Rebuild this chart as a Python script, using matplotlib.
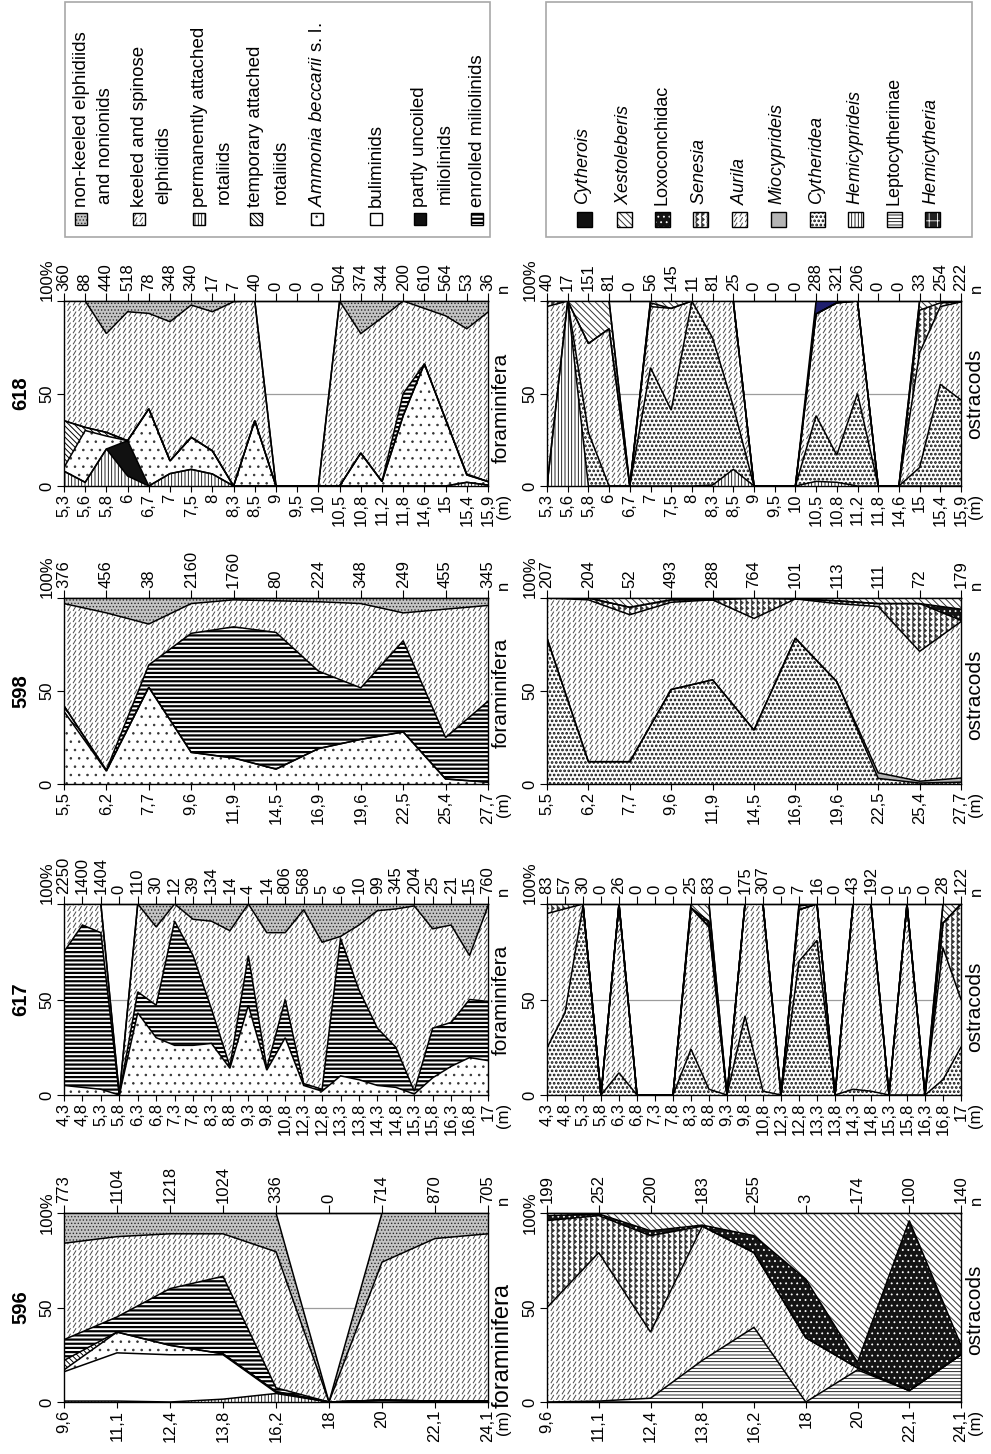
import numpy as np
import matplotlib
matplotlib.use("Agg")
import matplotlib.pyplot as plt
import matplotlib.hatch as mhatch
from matplotlib.path import Path
from matplotlib.patches import Rectangle

plt.rcParams['font.family'] = ['Liberation Sans', 'DejaVu Sans']
plt.rcParams['mathtext.fontset'] = 'custom'
plt.rcParams['mathtext.rm'] = 'Liberation Sans'
plt.rcParams['mathtext.it'] = 'Liberation Sans:italic'

W, H = 991, 1454


# ---------------------------------------------------------------- extra fill patterns
class DashedDiagonalHatch(mhatch.HatchPatternBase):
    """Short '/' dashes on a regular grid (selected with 'O')."""

    def __init__(self, hatch, density):
        self.num_rows = int(hatch.count('O') * density)
        self.num_vertices = 2 * self.num_rows * self.num_rows

    def set_vertices_and_codes(self, vertices, codes):
        n = self.num_rows
        step = 1.0 / n
        k = 0
        for i in range(n):
            for j in range(n):
                x0 = i * step + 0.2 * step
                y0 = j * step + 0.1 * step
                vertices[k] = (x0, y0)
                vertices[k + 1] = (x0 + 0.45 * step, y0 + 0.75 * step)
                codes[k] = Path.MOVETO
                codes[k + 1] = Path.LINETO
                k += 2


class ZigZagHatch(mhatch.HatchPatternBase):
    """Vertical zig-zag lines (selected with '*')."""

    def __init__(self, hatch, density):
        self.num_lines = int(hatch.count('*') * density)
        self.num_vertices = self.num_lines * (2 * self.num_lines + 1)

    def set_vertices_and_codes(self, vertices, codes):
        n = self.num_lines
        m = 2 * n + 1
        ys = np.linspace(0, 1, m)
        amp = 0.28 / n
        sign = np.where(np.arange(m) % 2 == 0, -1.0, 1.0)
        k = 0
        for i in range(n):
            xc = (i + 0.5) / n
            vertices[k:k + m, 0] = xc + amp * sign
            vertices[k:k + m, 1] = ys
            codes[k] = Path.MOVETO
            codes[k + 1:k + m] = Path.LINETO
            k += m


mhatch._hatch_types[:] = [t for t in mhatch._hatch_types
                          if t not in (mhatch.Stars, mhatch.LargeCircles)]
mhatch._hatch_types += [DashedDiagonalHatch, ZigZagHatch]

# ---------------------------------------------------------------- data
# depth labels (m) and sample counts per site
depth_596 = ['9,6', '11,1', '12,4', '13,8', '16,2', '18', '20', '22,1', '24,1']
depth_617 = ['4,3', '4,8', '5,3', '5,8', '6,3', '6,8', '7,3', '7,8', '8,3', '8,8', '9,3', '9,8',
             '10,8', '12,3', '12,8', '13,3', '13,8', '14,3', '14,8', '15,3', '15,8', '16,3', '16,8', '17']
depth_598 = ['5,5', '6,2', '7,7', '9,6', '11,9', '14,5', '16,9', '19,6', '22,5', '25,4', '27,7']
depth_618 = ['5,3', '5,6', '5,8', '6', '6,7', '7', '7,5', '8', '8,3', '8,5', '9', '9,5', '10',
             '10,5', '10,8', '11,2', '11,8', '14,6', '15', '15,4', '15,9']

n_foram_596 = [773, 1104, 1218, 1024, 336, 0, 714, 870, 705]
n_foram_617 = [2250, 1400, 1404, 0, 110, 30, 12, 39, 134, 14, 4, 14, 806, 568, 5, 6, 10, 99,
               345, 204, 25, 21, 15, 760]
n_foram_598 = [376, 456, 38, 2160, 1760, 80, 224, 348, 249, 455, 345]
n_foram_618 = [360, 88, 440, 518, 78, 348, 340, 17, 7, 40, 0, 0, 0, 504, 374, 344, 200, 610,
               564, 53, 36]

n_ostr_596 = [199, 252, 200, 183, 255, 3, 174, 100, 140]
n_ostr_617 = [83, 57, 30, 0, 26, 0, 0, 0, 25, 83, 0, 175, 307, 0, 7, 16, 0, 43, 192, 0, 5, 0, 28, 122]
n_ostr_598 = [207, 204, 52, 493, 288, 764, 101, 113, 111, 72, 179]
n_ostr_618 = [40, 17, 151, 81, 0, 56, 145, 11, 81, 25, 0, 0, 0, 288, 321, 206, 0, 0, 33, 254, 222]

# foraminifera groups, percent of sample
perm_596 = [0.5, 0.5, 0, 1.5, 4.5, 0, 0, 0, 0]
bulim_596 = [15.5, 25.5, 25, 23.5, 0.5, 0, 1, 0.5, 0.5]
ammonia_596 = [1, 11, 5, 0.5, 0.5, 0, 0, 0, 0]
temp_596 = [5, 0, 0, 0, 0, 0, 0, 0, 0]
enrolled_596 = [11, 8, 30, 41, 2, 0, 0, 0, 0]
keeled_596 = [51, 42.5, 29, 22.5, 72, 0, 73, 86, 88.5]
nonkeeled_596 = [16, 12.5, 11, 11, 20.5, 0, 26, 13.5, 11]

ammonia_617 = [5, 4, 3, 0, 43, 30, 26, 26, 27, 14, 47, 13, 30, 5, 2, 10, 8, 5, 4, 0.5, 9, 15, 19.6, 18]
enrolled_617 = [70, 85, 82, 0, 11, 17, 65, 47, 18, 1, 26, 1, 20, 1, 1, 72, 47, 30, 21, 1.5, 26, 23, 30.4, 31]
keeled_617 = [25, 11, 15, 0, 46, 41, 9, 19, 46, 71, 27, 71, 35, 91, 77, 1, 34, 61.5, 72.4, 97, 52, 51, 23, 50]
nonkeeled_617 = [0, 0, 0, 0, 0, 12, 0, 8, 9, 14, 0, 15, 15, 3, 20, 17, 11, 3.5, 2.6, 1, 13, 11, 27, 1]

ammonia_598 = [39, 7, 52, 17, 14, 8, 19, 24, 28, 2.7, 1]
temp_598 = [3, 0, 0, 0, 0, 0, 0, 0, 0, 0, 0]
enrolled_598 = [0, 0.5, 12, 64, 70.5, 73.5, 41.7, 27.7, 49, 22.3, 43.5]
keeled_598 = [55, 84.5, 22, 16, 14.5, 17, 37.3, 45.3, 15, 69, 51.5]
nonkeeled_598 = [3, 8, 14, 3, 1, 1.5, 2, 3, 8, 6, 4]

perm_618 = [8, 2, 20, 5.4, 0, 6.7, 9, 6.5, 0, 0, 0, 0, 0, 0, 0, 0, 0, 0, 0, 2, 0.5]
partly_618 = [0, 0, 0, 19.1, 0, 0, 0, 0, 0, 0, 0, 0, 0, 0, 0, 0, 0, 0, 0, 0, 0]
ammonia_618 = [2, 28, 7, 0, 41.7, 6.9, 17.3, 12.5, 0, 35.3, 0, 0, 0, 0, 17.8, 2.4, 38, 66, 36, 4, 1.9]
temp_618 = [25.3, 1.7, 2, 0, 0, 0, 0, 0, 0, 0, 0, 0, 0, 0, 0, 0, 0, 0, 0, 0, 0]
enrolled_618 = [0, 0, 0, 0, 0, 0, 0, 0, 0, 0, 0, 0, 0, 0, 0, 0, 12, 0, 0, 0.5, 0]
keeled_618 = [64.7, 68.3, 53.4, 69.7, 51.6, 75.2, 71.5, 75.2, 99.6, 64.7, 0, 0, 0, 100, 64.6, 88.6,
              50, 30, 56, 78.5, 91.6]
nonkeeled_618 = [0, 0, 17.6, 5.8, 6.7, 11.2, 2.2, 5.8, 0.4, 0, 0, 0, 0, 0, 17.6, 9, 0, 4, 8, 15, 6]

# ostracod taxa, percent of sample
lepto_596 = [0, 0.5, 2, 22, 39.5, 0, 17, 6, 25]
aurila_596 = [50, 78.5, 35, 71, 39.5, 34, 1, 0, 0]
senesia_596 = [46, 19.6, 51, 0, 0, 0, 0, 0, 0]
loxo_596 = [2.6, 0.9, 2.6, 0.6, 9, 31, 3, 90, 5]
xesto_596 = [1.4, 0.5, 9.4, 6.4, 12, 35, 79, 4, 70]

cytheridea_617 = [24.7, 43, 99, 0, 11.6, 0, 0, 0, 24, 3, 0, 41.4, 2, 0, 70, 81, 0, 3, 2, 0, 0, 0, 8, 25]
aurila_617 = [70.3, 54.5, 1, 0, 88.4, 0, 0, 0, 74, 85, 0, 58.6, 98, 0, 27, 19, 0, 97, 98, 0, 100, 0, 69, 25]
senesia_617 = [5, 2.5, 0, 0, 0, 0, 0, 0, 0, 0, 0, 0, 0, 0, 0, 0, 0, 0, 0, 0, 0, 0, 13, 50]
loxo_617 = [0, 0, 0, 0, 0, 0, 0, 0, 0, 3, 0, 0, 0, 0, 0, 0, 0, 0, 0, 0, 0, 0, 0, 0]
xesto_617 = [0, 0, 0, 0, 0, 0, 0, 0, 2, 9, 0, 0, 0, 0, 2, 0, 0, 0, 0, 0, 0, 0, 10, 0]
cytherois_617 = [0, 0, 0, 0, 0, 0, 0, 0, 0, 0, 0, 0, 0, 0, 1, 0, 0, 0, 0, 0, 0, 0, 0, 0]

cytheridea_598 = [78.4, 12, 12, 50.8, 56, 29, 78.4, 55, 3, 0.5, 1]
miocyp_598 = [0, 0, 0, 0, 0, 0, 0, 0, 3, 1, 2.2]
aurila_598 = [21.6, 87, 79, 46.9, 43, 60, 21.1, 42, 89.4, 69.8, 84.1]
senesia_598 = [0, 1, 4, 1.3, 0, 11, 0, 1.5, 1.6, 25.7, 0.7]
loxo_598 = [0, 0, 0, 0, 0, 0, 0, 0, 0, 0, 6]
xesto_598 = [0, 0, 5, 1, 1, 0, 0.5, 1.5, 3, 3, 6]

hemicyp_618 = [0, 100, 0, 0, 0, 0, 0, 0, 0.5, 9, 0, 0, 0, 2.5, 2, 0, 0, 0, 0, 0, 0]
cytheridea_618 = [0, 0, 29, 0, 0, 64, 41, 100, 79.5, 34, 0, 0, 0, 35.5, 14.7, 50, 0, 0, 10, 55, 46.5]
aurila_618 = [97, 0, 48, 85, 0, 33, 55, 0, 20, 57, 0, 0, 0, 55, 82.3, 50, 0, 0, 62, 42, 53]
senesia_618 = [3, 0, 0, 0, 0, 2, 0, 0, 0, 0, 0, 0, 0, 0, 0, 0, 0, 0, 23, 2, 0]
xesto_618 = [0, 0, 23, 15, 0, 1, 4, 0, 0, 0, 0, 0, 0, 0, 0, 0, 0, 0, 5, 1, 0.5]
cytherois_618 = [0, 0, 0, 0, 0, 0, 0, 0, 0, 0, 0, 0, 0, 7, 1, 0, 0, 0, 0, 0, 0]

# ---------------------------------------------------------------- styles
FORAM_STYLE = {
    'nonkeeled': dict(face='#c4c4c4', hatch='.....', hc='#2a2a2a', hlw=0.6),
    'keeled': dict(face='white', hatch='OOO', hc='#4a4a4a', hlw=0.7),
    'perm': dict(face='white', hatch='|||||', hc='black', hlw=0.6),
    'temp': dict(face='white', hatch='\\\\\\\\\\\\', hc='black', hlw=0.7),
    'ammonia': dict(face='white', hatch='..', hc='#333333', hlw=0.6),
    'bulim': dict(face='white', hatch=None, hc='none', hlw=0.5),
    'partly': dict(face='#111111', hatch=None, hc='none', hlw=0.5),
    'enrolled': dict(face='white', hatch='----', hc='black', hlw=1.6),
}
FORAM_ORDER = ['perm', 'partly', 'bulim', 'ammonia', 'temp', 'enrolled', 'keeled', 'nonkeeled']

OSTR_STYLE = {
    'hemicytheria': dict(face='#222222', hatch='++', hc='white', hlw=0.6),
    'lepto': dict(face='white', hatch='-----', hc='black', hlw=0.6),
    'hemicyp': dict(face='white', hatch='|||||', hc='black', hlw=0.6),
    'cytheridea': dict(face='white', hatch='....', hc='#111111', hlw=1.3),
    'miocyp': dict(face='#b5b5b5', hatch=None, hc='none', hlw=0.5),
    'aurila': dict(face='white', hatch='OOO', hc='#4a4a4a', hlw=0.7),
    'senesia': dict(face='white', hatch='***', hc='#333333', hlw=0.6),
    'loxo': dict(face='#141414', hatch='...', hc='white', hlw=0.6),
    'xesto': dict(face='white', hatch='\\\\\\\\\\', hc='#333333', hlw=0.7),
    'cytherois': dict(face='#111111', hatch=None, hc='none', hlw=0.5),
}
OSTR_ORDER = ['hemicytheria', 'lepto', 'hemicyp', 'cytheridea', 'miocyp', 'aurila', 'senesia',
              'loxo', 'xesto', 'cytherois']

fig = plt.figure(figsize=(W / 100, H / 100), dpi=100)

# pixel-space overlay for legends and site numbers
lay = fig.add_axes([0, 0, 1, 1])
lay.set_xlim(0, W)
lay.set_ylim(H, 0)
lay.axis('off')
lay.set_zorder(0)


def axes_px(x0, y0, x1, y1):
    ax = fig.add_axes([x0 / W, 1 - y1 / H, (x1 - x0) / W, (y1 - y0) / H])
    ax.set_zorder(2)
    return ax


def make_fill(ax, x, lo, hi, st, z=1):
    with plt.rc_context({'hatch.linewidth': st['hlw']}):
        coll = ax.fill_between(x, lo, hi, facecolor=st['face'], edgecolor=st['hc'],
                               hatch=st['hatch'], linewidth=0, zorder=z)
    if hasattr(coll, 'set_hatch_linewidth'):
        coll.set_hatch_linewidth(st['hlw'])
    return coll


def draw_panel(ax, depths, counts, layers, order, styles, group, label_pos,
               label_size, top_va='bottom'):
    n = len(depths)
    x = np.arange(n)
    ax.axhline(50, color='#9c9c9c', lw=0.9, zorder=0.5)
    base = np.zeros(n)
    for key in order:
        if key not in layers:
            continue
        vals = np.asarray(layers[key], float)
        top = base + vals
        if np.any(vals > 0):
            make_fill(ax, x, base, top, styles[key])
            ax.plot(x, top, color='black', lw=1.1, zorder=3, solid_joinstyle='miter')
        base = top
    ax.set_xlim(0, n - 1)
    ax.set_ylim(0, 100)
    ax.set_facecolor('none')
    for sp in ax.spines.values():
        sp.set_linewidth(1.0)
        sp.set_zorder(4)
    ax.set_xticks(x, labels=depths)
    ax.set_yticks([0, 50, 100], labels=['0', '50', '100%'])
    ax.tick_params(axis='x', direction='out', length=4, width=0.8, pad=1.5,
                   labelsize=12, labelrotation=90)
    ax.tick_params(axis='y', direction='out', length=5, width=0.8, pad=2,
                   labelsize=12, labelrotation=90)
    ylabels = ax.get_yticklabels()
    for lbl in ylabels:
        lbl.set_va('center')
    ylabels[-1].set_va(top_va)
    sec = ax.secondary_xaxis('top')
    sec.set_xticks(x, labels=[str(c) for c in counts])
    sec.tick_params(direction='out', length=6, width=0.8, pad=1.5, labelsize=12,
                    labelrotation=90)
    sec.spines['top'].set_linewidth(1.0)
    ax.annotate('n', xy=(1, 1), xycoords='axes fraction', xytext=(15, 8),
                textcoords='offset pixels', rotation=90, ha='center', va='bottom',
                fontsize=12)
    ax.annotate('(m)', xy=(1, 0), xycoords='axes fraction', xytext=(15, -8),
                textcoords='offset pixels', rotation=90, ha='center', va='top',
                fontsize=12)
    ax.annotate(group, xy=(1, label_pos), xycoords='axes fraction', xytext=(4, 0),
                textcoords='offset pixels', rotation=90, ha='left', va='center',
                fontsize=label_size)


ROWS = [(301, 486), (598, 784), (904, 1095), (1213, 1402)]
FX = (64, 488)
OX = (547, 961)

sites = ['618', '598', '617', '596']
foram_data = {
    '618': (depth_618, n_foram_618, dict(perm=perm_618, partly=partly_618, ammonia=ammonia_618,
                                         temp=temp_618, enrolled=enrolled_618, keeled=keeled_618,
                                         nonkeeled=nonkeeled_618)),
    '598': (depth_598, n_foram_598, dict(ammonia=ammonia_598, temp=temp_598, enrolled=enrolled_598,
                                         keeled=keeled_598, nonkeeled=nonkeeled_598)),
    '617': (depth_617, n_foram_617, dict(ammonia=ammonia_617, enrolled=enrolled_617,
                                         keeled=keeled_617, nonkeeled=nonkeeled_617)),
    '596': (depth_596, n_foram_596, dict(perm=perm_596, bulim=bulim_596, ammonia=ammonia_596,
                                         temp=temp_596, enrolled=enrolled_596, keeled=keeled_596,
                                         nonkeeled=nonkeeled_596)),
}
ostr_data = {
    '618': (depth_618, n_ostr_618, dict(hemicyp=hemicyp_618, cytheridea=cytheridea_618,
                                        aurila=aurila_618, senesia=senesia_618, xesto=xesto_618,
                                        cytherois=cytherois_618)),
    '598': (depth_598, n_ostr_598, dict(cytheridea=cytheridea_598, miocyp=miocyp_598,
                                        aurila=aurila_598, senesia=senesia_598, loxo=loxo_598,
                                        xesto=xesto_598)),
    '617': (depth_617, n_ostr_617, dict(cytheridea=cytheridea_617, aurila=aurila_617,
                                        senesia=senesia_617, loxo=loxo_617, xesto=xesto_617,
                                        cytherois=cytherois_617)),
    '596': (depth_596, n_ostr_596, dict(lepto=lepto_596, aurila=aurila_596, senesia=senesia_596,
                                        loxo=loxo_596, xesto=xesto_596)),
}
foram_label = {'618': (0.42, 15), '598': (0.49, 15), '617': (0.5, 15), '596': (0.3, 17)}
ostr_label = {'618': (0.5, 15), '598': (0.48, 15), '617': (0.46, 15), '596': (0.49, 15)}

for site, (y0, y1) in zip(sites, ROWS):
    top_va = 'center' if site == '596' else 'bottom'
    d, c, layers = foram_data[site]
    axf = axes_px(FX[0], y0, FX[1], y1)
    draw_panel(axf, d, c, layers, FORAM_ORDER, FORAM_STYLE, 'foraminifera',
               foram_label[site][0], foram_label[site][1], top_va)
    d, c, layers = ostr_data[site]
    styles = dict(OSTR_STYLE)
    if site == '618':
        styles['cytherois'] = dict(OSTR_STYLE['cytherois'], face='#1f1f6e')
    axo = axes_px(OX[0], y0, OX[1], y1)
    draw_panel(axo, d, c, layers, OSTR_ORDER, styles, 'ostracods',
               ostr_label[site][0], ostr_label[site][1], top_va)
    lay.text(21, (y0 + y1) / 2, site, rotation=90, ha='center', va='center',
             fontsize=14.5, fontweight='bold')


# ---------------------------------------------------------------- legends
def legend_patch(cx, cy, size, st):
    with plt.rc_context({'hatch.linewidth': st['hlw']}):
        p = Rectangle((cx - size / 2, cy - size / 2), size, size, facecolor=st['face'],
                      edgecolor=st['hc'], hatch=st['hatch'], linewidth=0, zorder=2)
    if hasattr(p, 'set_hatch_linewidth'):
        p.set_hatch_linewidth(st['hlw'])
    lay.add_patch(p)
    lay.add_patch(Rectangle((cx - size / 2, cy - size / 2), size, size, fill=False,
                            edgecolor='black', linewidth=1.0, zorder=3))


lay.add_patch(Rectangle((65, 2), 425, 235, fill=False, edgecolor='#a8a8a8', linewidth=1.2))
lay.add_patch(Rectangle((546, 2), 426, 235, fill=False, edgecolor='#a8a8a8', linewidth=1.2))

foram_legend = [
    ('nonkeeled', 81, ['non-keeled elphidiids', 'and nonionids']),
    ('keeled', 139, ['keeled and spinose', 'elphidiids']),
    ('perm', 199, ['permanently attached', 'rotaliids']),
    ('temp', 256, ['temporary attached', 'rotaliids']),
    ('ammonia', 317, [r'$\mathit{Ammonia\ beccarii}$ s. l.']),
    ('bulim', 376, ['buliminids']),
    ('partly', 420, ['partly uncoiled', 'miliolinids']),
    ('enrolled', 477, ['enrolled miliolinids']),
]
for key, cx, lines in foram_legend:
    legend_patch(cx, 219, 12, FORAM_STYLE[key])
    for k, line in enumerate(lines):
        lay.text(cx + 25 * k, 207 - 3 * k, line, rotation=90, ha='center', va='bottom',
                 fontsize=13.5)

ostr_legend = [
    ('cytherois', 584, r'$\mathit{Cytherois}$'),
    ('xesto', 624, r'$\mathit{Xestoleberis}$'),
    ('loxo', 662, 'Loxoconchidac'),
    ('senesia', 700, r'$\mathit{Senesia}$'),
    ('aurila', 739, r'$\mathit{Aurila}$'),
    ('miocyp', 778, r'$\mathit{Miocyprideis}$'),
    ('cytheridea', 817, r'$\mathit{Cytheridea}$'),
    ('hemicyp', 855, r'$\mathit{Hemicyprideis}$'),
    ('lepto', 894, 'Leptocytherinae'),
    ('hemicytheria', 932, r'$\mathit{Hemicytheria}$'),
]
for key, cx, name in ostr_legend:
    legend_patch(cx, 219.5, 15, OSTR_STYLE[key])
    lay.text(cx, 205, name, rotation=90, ha='center', va='bottom', fontsize=13)

fig.savefig('out.png', dpi=100)
